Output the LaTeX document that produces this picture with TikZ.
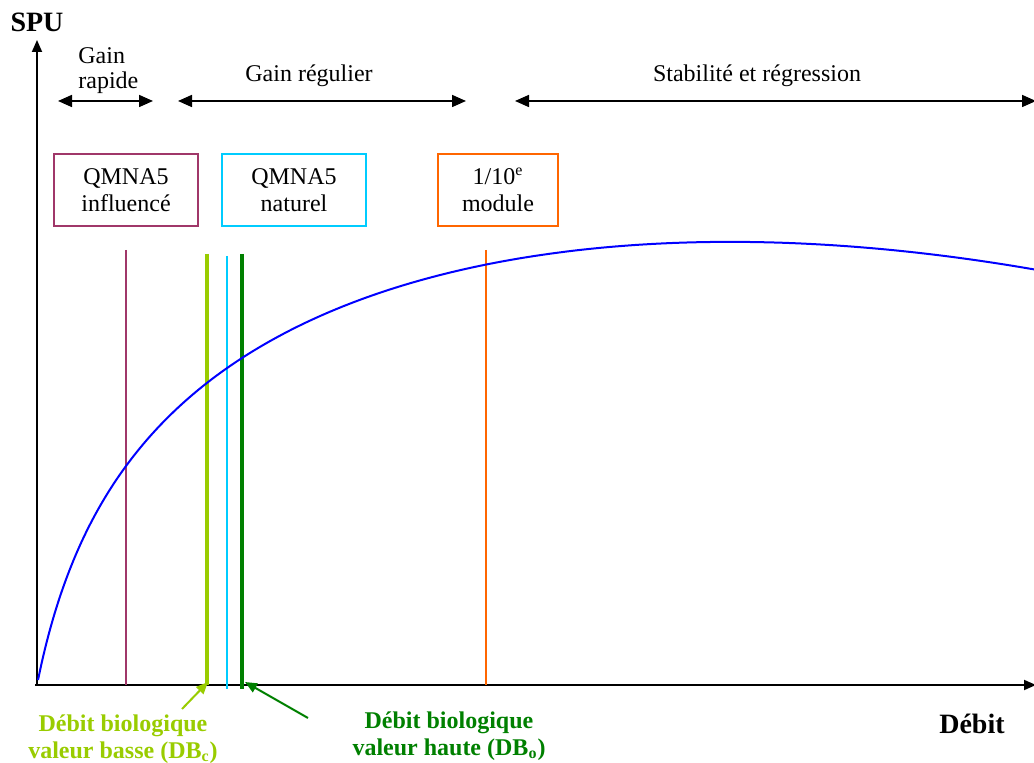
\documentclass[tikz,border=0pt]{standalone}
\usepackage{fontspec}
\setmainfont{Liberation Serif}
\usetikzlibrary{arrows.meta}
\definecolor{cpurple}{RGB}{160,55,105}
\definecolor{ccyan}{RGB}{0,204,255}
\definecolor{corange}{RGB}{255,102,0}
\definecolor{cyg}{RGB}{153,204,0}
\definecolor{cdg}{RGB}{0,128,0}
\begin{document}
\begin{tikzpicture}[x=0.5pt,y=-0.5pt,
  tip/.style={-{Triangle[length=6pt,width=5pt]}},
  dtip/.style={{Triangle[length=7pt,width=6pt]}-{Triangle[length=7pt,width=6pt]}},
  lbl/.style={font=\fontsize{12}{12.5}\selectfont, inner sep=0pt},
  boxlbl/.style={draw, line width=1pt, minimum width=72pt, minimum height=36pt, align=center, font=\fontsize{12}{13.5}\selectfont, inner sep=1pt},
  biglbl/.style={font=\fontsize{12}{13.5}\selectfont\bfseries, align=center, inner sep=0pt}]
\useasboundingbox (0,0) rectangle (1034,763);
% axes
\coordinate (O) at (37,685);
\coordinate (ytop) at (37,40);
\coordinate (xend) at (1036,685);
\draw[line width=0.9pt, tip] (O) -- (ytop);
\draw[line width=0.9pt, tip] (35,685) -- (xend);
\node[font=\fontsize{14}{16}\selectfont\bfseries, inner sep=0pt] (spu) at (37,22) {SPU};
\node[font=\fontsize{14}{16}\selectfont\bfseries, inner sep=0pt] (debit) at (972,724) {Débit};
% phase arrows
\coordinate (r1) at (58,101); \coordinate (r2) at (153,101);
\coordinate (g1) at (178,101); \coordinate (g2) at (466,101);
\coordinate (s1) at (515,101); \coordinate (s2) at (1036,101);
\draw[line width=0.8pt, dtip] (r1) -- (r2);
\draw[line width=0.8pt, dtip] (g1) -- (g2);
\draw[line width=0.8pt, dtip] (s1) -- (s2);
\node[lbl, anchor=west, align=left] (gr) at (78,71) {Gain\\rapide};
\node[lbl] (greg) at (309,76) {Gain régulier};
\node[lbl] (stab) at (757,76) {Stabilité et régression};
% boxes
\node[boxlbl, draw=cpurple] (b1) at (126,190) {QMNA5\\influencé};
\node[boxlbl, draw=ccyan] (b2) at (294,190) {QMNA5\\naturel};
\node[boxlbl, draw=corange, minimum width=60pt] (b3) at (498,190) {1/10\textsuperscript{e}\\module};
% vertical lines
\draw[cpurple, line width=1pt] (126,250) -- (126,685);
\draw[cyg, line width=2pt] (207,254) -- (207,685);
\draw[ccyan, line width=1pt] (227,256) -- (227,689);
\draw[cdg, line width=2pt] (242,254) -- (242,689);
\draw[corange, line width=1pt] (486,250) -- (486,685);
% curve
\draw[blue, line width=1pt] plot[domain=0:996, samples=250, variable=\t, smooth]
  ({38+\t},{680-171.3*ln(1+\t/35)+171.3*(\t/1003.1)^2});
% bottom labels
\node[biglbl, text=cyg] (lb) at (123,739) {Débit biologique\\valeur basse (DB\textsubscript{c})};
\node[biglbl, text=cdg] (lh) at (449,736) {Débit biologique\\valeur haute (DB\textsubscript{o})};
\coordinate (ab1) at (182,709); \coordinate (ab2) at (208,682);
\coordinate (ah1) at (308,718); \coordinate (ah2) at (245,682);
\draw[cyg, line width=1pt, -{Triangle[length=6pt,width=5pt]}] (ab1) -- (ab2);
\draw[cdg, line width=1pt, -{Triangle[length=6pt,width=5pt]}] (ah1) -- (ah2);
\end{tikzpicture}
\end{document}
